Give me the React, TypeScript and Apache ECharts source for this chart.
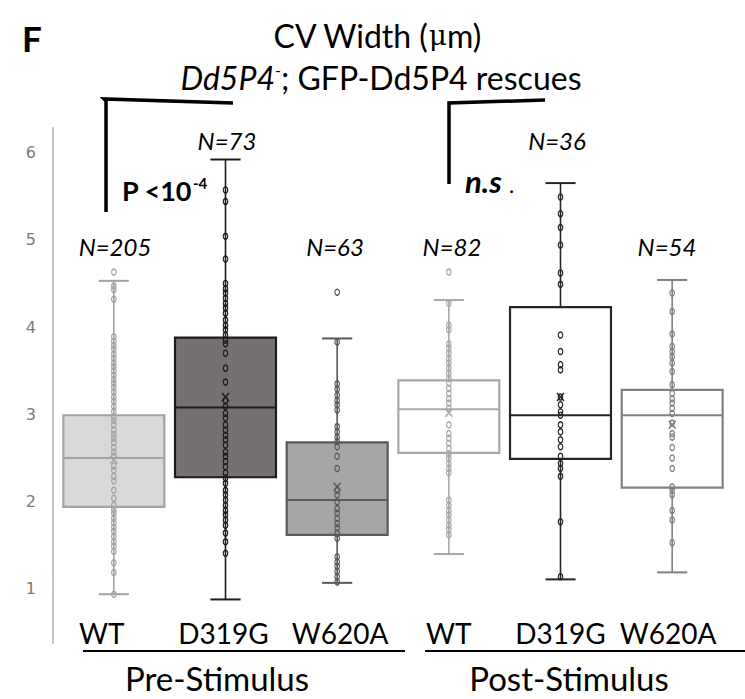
import React, { useEffect, useRef } from "react";
import * as echarts from "echarts";

const categories = ["WT", "D319G", "W620A", "WT", "D319G", "W620A"];
const groupLabels = ["Pre-Stimulus", "Post-Stimulus"];
const nCounts = [205, 73, 63, 82, 36, 54];
const yTickValues = [1, 2, 3, 4, 5, 6];

// box statistics per category
const lowWhisker = [0.94, 0.88, 1.07, 1.4, 1.11, 1.19];
const q1Values = [1.94, 2.28, 1.62, 2.56, 2.49, 2.16];
const medians = [2.5, 3.08, 2.02, 3.06, 2.99, 2.99];
const q3Values = [2.99, 3.88, 2.68, 3.39, 4.23, 3.28];
const highWhisker = [4.53, 5.92, 3.87, 4.31, 5.65, 4.54];
const means = [2.48, 3.2, 2.17, 3.02, 3.2, 2.88];

// individual observations (visible positions)
const wtPre = [4.63, 4.47, 4.43, 4.32, 3.89, 3.84, 3.79, 3.75, 3.69, 3.64, 3.59, 3.55, 3.5, 3.45, 3.4, 3.36, 3.31, 3.26, 3.2, 3.15, 3.09, 3.03, 2.97, 2.93, 2.88, 2.82, 2.77, 2.73, 2.68, 2.62, 2.57, 2.52, 2.41, 2.36, 2.29, 2.24, 2.13, 2.04, 1.96, 1.91, 1.87, 1.81, 1.76, 1.71, 1.66, 1.6, 1.54, 1.49, 1.43, 1.3, 1.19, 0.94];
const d319gPre = [6.47, 5.57, 5.44, 5.04, 4.78, 4.5, 4.44, 4.39, 4.33, 4.27, 4.22, 4.16, 4.08, 4.02, 3.97, 3.91, 3.85, 3.81, 3.7, 3.53, 3.37, 3.16, 3.09, 3.01, 2.96, 2.88, 2.82, 2.76, 2.71, 2.65, 2.57, 2.52, 2.46, 2.4, 2.33, 2.27, 2.21, 2.13, 2.08, 2.02, 1.96, 1.9, 1.85, 1.79, 1.73, 1.64, 1.54, 1.41];
const w620aPre = [4.4, 3.83, 3.35, 3.29, 3.22, 3.16, 3.11, 3.05, 2.86, 2.8, 2.74, 2.69, 2.63, 2.52, 2.38, 2.13, 2.08, 2.0, 1.92, 1.87, 1.81, 1.75, 1.7, 1.64, 1.58, 1.37, 1.31, 1.26, 1.2, 1.14, 1.08];
const wtPost = [4.63, 4.27, 4.02, 3.97, 3.81, 3.76, 3.7, 3.64, 3.59, 3.53, 3.47, 3.41, 3.36, 3.3, 3.24, 3.18, 3.13, 3.07, 2.88, 2.78, 2.73, 2.67, 2.61, 2.55, 2.5, 2.44, 2.38, 2.33, 2.02, 1.96, 1.9, 1.85, 1.79, 1.73, 1.68, 1.62];
const d319gPost = [5.49, 5.3, 5.14, 4.94, 4.62, 4.49, 3.91, 3.72, 3.57, 3.51, 3.2, 3.11, 3.03, 2.99, 2.88, 2.8, 2.71, 2.63, 2.52, 2.44, 2.38, 2.29, 1.77, 1.14];
const w620aPost = [4.39, 4.18, 3.92, 3.78, 3.72, 3.66, 3.59, 3.49, 3.34, 3.24, 3.18, 3.13, 3.07, 3.01, 2.9, 2.78, 2.74, 2.62, 2.5, 2.38, 2.17, 2.13, 2.08, 1.9, 1.79, 1.53];
const pointSets = [wtPre, d319gPre, w620aPre, wtPost, d319gPost, w620aPost];

// styles (not data)
const boxFill = ["#d9d9d9", "#767171", "#a6a6a6", "#ffffff", "#ffffff", "#ffffff"];
const boxStroke = ["#a3a3a3", "#1c1c1c", "#595959", "#a8a8a8", "#262626", "#808080"];
const labelShift = [-12, -2, 3, 0, 0, -4];
const nLabelPos: [number, number][] = [
  [115, 246], [227, 140], [335, 246], [452, 246], [557, 140], [667, 246],
];

const FONT = "Lato, 'Open Sans', 'Noto Sans', sans-serif";

export default function App() {
  const ref = useRef<HTMLDivElement>(null);
  useEffect(() => {
    document.body.style.margin = "0";
    const chart = echarts.init(ref.current!, null, { renderer: "svg" });
    const boxData = categories.map((_, i) => [
      i, lowWhisker[i], q1Values[i], medians[i], q3Values[i], highWhisker[i], means[i],
    ]);
    const rich: any = {};
    categories.forEach((_, i) => {
      const s = labelShift[i];
      rich["c" + i] = {
        fontFamily: FONT,
        fontSize: 28,
        color: "#000",
        padding: s < 0 ? [0, -2 * s, 0, 0] : [0, 0, 0, 2 * s],
      };
    });
    const graphics: any[] = [];
    const txt = (x: number, y: number, text: string, extra: any) => ({
      type: "text",
      silent: true,
      style: {
        x, y, text,
        fontFamily: FONT,
        fill: "#000",
        align: "center",
        verticalAlign: "middle",
        textAlign: "center",
        textVerticalAlign: "middle",
        ...extra,
      },
    });
    graphics.push(txt(22, 38, "F", { fontSize: 35, fontWeight: "bold", align: "left", textAlign: "left" }));
    graphics.push(
      txt(377, 35, "{a|CV Width (}{mu|μ}{a|m)}", {
        rich: {
          a: { fontFamily: FONT, fontSize: 32, color: "#000" },
          mu: { fontFamily: "'DejaVu Serif', serif", fontSize: 28, color: "#000" },
        },
      })
    );
    graphics.push(
      txt(381, 77, "{i|Dd5P4}{s|-}{a|; GFP-Dd5P4 rescues}", {
        rich: {
          i: { fontFamily: FONT, fontSize: 32, fontStyle: "italic", color: "#000" },
          s: { fontFamily: FONT, fontSize: 16, color: "#000", verticalAlign: "top", lineHeight: 16 },
          a: { fontFamily: FONT, fontSize: 32, color: "#000" },
        },
      })
    );
    nCounts.forEach((n, i) => {
      graphics.push(txt(nLabelPos[i][0], nLabelPos[i][1], "N=" + n, { fontSize: 24, fontStyle: "italic" }));
    });
    // significance brackets
    graphics.push({ type: "polyline", silent: true, shape: { points: [[106, 212], [106, 101], [104, 99], [233, 103]] }, style: { stroke: "#000", lineWidth: 3.5, fill: null } });
    graphics.push({ type: "polyline", silent: true, shape: { points: [[449, 184], [449, 103], [545, 100]] }, style: { stroke: "#000", lineWidth: 3.5, fill: null } });
    graphics.push(txt(122, 190, "P <10", { fontSize: 27, fontWeight: "bold", align: "left", textAlign: "left" }));
    graphics.push(txt(193, 183, "-4", { fontSize: 15, fontWeight: "bold", align: "left", textAlign: "left" }));
    graphics.push(txt(465, 181, "n.s", { fontSize: 31, fontWeight: "bold", fontStyle: "italic", align: "left", textAlign: "left" }));
    graphics.push(txt(509, 184, ".", { fontSize: 22, align: "left", textAlign: "left" }));
    // group underlines and labels
    graphics.push({ type: "line", silent: true, shape: { x1: 83, y1: 651, x2: 405, y2: 651 }, style: { stroke: "#000", lineWidth: 2 } });
    graphics.push({ type: "line", silent: true, shape: { x1: 425, y1: 651, x2: 745, y2: 651 }, style: { stroke: "#000", lineWidth: 2 } });
    graphics.push(txt(217, 678, groupLabels[0], { fontSize: 33, lineHeight: 34 }));
    graphics.push(txt(569, 678, groupLabels[1], { fontSize: 33, lineHeight: 34 }));

    const option: any = {
      animation: false,
      backgroundColor: "#fff",
      grid: { left: 58, right: 17, top: 128, bottom: 56 },
      xAxis: {
        type: "category",
        data: categories,
        axisLine: { show: false },
        axisTick: { show: false },
        splitLine: { show: false },
        axisLabel: {
          margin: -24,
          interval: 0,
          formatter: (v: string, i: number) => "{c" + i + "|" + v + "}",
          rich,
        },
      },
      yAxis: {
        type: "value",
        min: 0.381,
        max: 6.281,
        offset: 5,
        splitLine: { show: false },
        axisTick: { show: false },
        axisLine: { show: true, lineStyle: { color: "#c4c4c4", width: 2, type: [2, 1] } },
        axisLabel: {
          customValues: yTickValues,
          margin: 17,
          color: "#7a7a7a",
          fontFamily: "'DejaVu Sans', sans-serif",
          fontSize: 16,
        },
      },
      graphic: graphics,
      series: [
        {
          type: "custom",
          name: "boxes",
          data: boxData,
          z: 1,
          renderItem: (params: any, api: any) => {
            const idx = api.value(0);
            const bw = api.size([1, 0])[0];
            const half = bw * 0.452;
            const cap = bw * 0.135;
            const pLow = api.coord([idx, api.value(1)]);
            const pQ1 = api.coord([idx, api.value(2)]);
            const pMed = api.coord([idx, api.value(3)]);
            const pQ3 = api.coord([idx, api.value(4)]);
            const pHigh = api.coord([idx, api.value(5)]);
            const pMean = api.coord([idx, api.value(6)]);
            const x = pLow[0];
            const stroke = boxStroke[idx];
            const ls = { stroke, lineWidth: 1.6 };
            return {
              type: "group",
              children: [
                { type: "line", shape: { x1: x, y1: pHigh[1], x2: x, y2: pQ3[1] }, style: ls },
                { type: "line", shape: { x1: x, y1: pQ1[1], x2: x, y2: pLow[1] }, style: ls },
                { type: "line", shape: { x1: x - cap, y1: pHigh[1], x2: x + cap, y2: pHigh[1] }, style: { stroke, lineWidth: 2 } },
                { type: "line", shape: { x1: x - cap, y1: pLow[1], x2: x + cap, y2: pLow[1] }, style: { stroke, lineWidth: 2 } },
                {
                  type: "rect",
                  shape: { x: x - half, y: pQ3[1], width: 2 * half, height: pQ1[1] - pQ3[1] },
                  style: { fill: boxFill[idx], stroke, lineWidth: 2.2 },
                },
                { type: "line", shape: { x1: x - half, y1: pMed[1], x2: x + half, y2: pMed[1] }, style: { stroke, lineWidth: 2 } },
                { type: "line", shape: { x1: x - 3.5, y1: pMean[1] - 4, x2: x + 3.5, y2: pMean[1] + 4 }, style: { stroke, lineWidth: 1.5 } },
                { type: "line", shape: { x1: x + 3.5, y1: pMean[1] - 4, x2: x - 3.5, y2: pMean[1] + 4 }, style: { stroke, lineWidth: 1.5 } },
              ],
            };
          },
        },
        ...pointSets.map((pts, i) => ({
          type: "scatter",
          name: categories[i] + (i < 3 ? " pre" : " post"),
          z: 3,
          symbol: "circle",
          symbolSize: [4.5, 6],
          itemStyle: { color: "rgba(0,0,0,0)", borderColor: boxStroke[i], borderWidth: 1.3, opacity: 1 },
          data: pts.map((v) => [i, v]),
        })),
      ],
    };
    chart.setOption(option);
    return () => chart.dispose();
  }, []);
  return <div ref={ref} style={{ position: "fixed", left: 0, top: 0, width: 745, height: 699 }} />;
}
